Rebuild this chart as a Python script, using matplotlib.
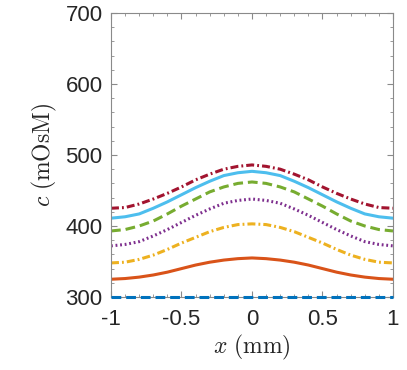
import matplotlib
matplotlib.use("Agg")
import matplotlib.pyplot as plt
from matplotlib.ticker import MultipleLocator

plt.rcParams['mathtext.fontset'] = 'cm'
plt.rcParams['font.family'] = ['Liberation Sans', 'DejaVu Sans']

# positions along x (mm)
x = [-1.0, -0.9, -0.8, -0.7, -0.6, -0.5, -0.4, -0.3, -0.2, -0.1, 0.0,
     0.1, 0.2, 0.3, 0.4, 0.5, 0.6, 0.7, 0.8, 0.9, 1.0]

# concentration profiles (mOsM)
c_blue = [300] * 21
c_orange = [325, 326, 328, 331, 335, 340, 345, 349, 352, 354, 355,
            354, 352, 349, 345, 340, 335, 331, 328, 326, 325]
c_yellow = [348, 349, 353, 359, 367, 376, 384, 392, 398, 402, 403,
            402, 398, 392, 384, 376, 367, 359, 353, 349, 348]
c_purple = [372, 374, 378, 386, 395, 405, 415, 424, 432, 436, 438,
            436, 432, 424, 415, 405, 395, 386, 378, 374, 372]
c_green = [393, 395, 400, 407, 417, 428, 438, 448, 455, 460, 462,
           460, 455, 448, 438, 428, 417, 407, 400, 395, 393]
c_lblue = [411, 413, 417, 425, 434, 444, 454, 463, 471, 475, 477,
           475, 471, 463, 454, 444, 434, 425, 417, 413, 411]
c_red = [425, 426, 431, 438, 446, 455, 465, 473, 480, 484, 486,
         484, 480, 473, 465, 455, 446, 438, 431, 426, 425]

fig = plt.figure(figsize=(4.07, 3.70), dpi=100)
ax = fig.add_axes([0.2727, 0.1973, 0.6929, 0.7676])

lw = 2.2
dash = (3.2, 1.6)
dashdot = (2.6, 1.0, 0.6, 1.0)
ax.plot(x, c_blue, color='#0072BD', lw=lw, dashes=dash, clip_on=False, zorder=3)
ax.plot(x, c_orange, color='#D95319', ls='-', lw=lw)
ax.plot(x, c_yellow, color='#EDB120', lw=lw, dashes=dashdot)
ax.plot(x, c_purple, color='#7E2F8E', lw=lw, dashes=(0.6, 0.9))
ax.plot(x, c_green, color='#77AC30', lw=lw, dashes=dash)
ax.plot(x, c_lblue, color='#4DBEEE', ls='-', lw=lw)
ax.plot(x, c_red, color='#A2142F', lw=lw, dashes=dashdot)

ax.set_xlim(-1, 1)
ax.set_ylim(300, 700)
ax.xaxis.set_major_locator(MultipleLocator(0.5))
ax.xaxis.set_minor_locator(MultipleLocator(0.1))
ax.yaxis.set_major_locator(MultipleLocator(100))
ax.yaxis.set_minor_locator(MultipleLocator(20))
ax.xaxis.set_major_formatter(plt.FuncFormatter(lambda v, p: '%g' % v))

for s in ax.spines.values():
    s.set_color('#8a8a8a')
    s.set_linewidth(0.8)
ax.tick_params(which='both', direction='in', top=True, right=True,
               colors='#8a8a8a', labelcolor='#262626', labelsize=16)
ax.tick_params(which='major', length=4, width=0.8)
ax.tick_params(which='minor', length=2, width=0.6)
ax.tick_params(axis='x', which='major', pad=9)
ax.tick_params(axis='y', which='major', pad=6)

ax.set_xlabel(r'$x\ \mathrm{(mm)}$', fontsize=17, color='#262626', labelpad=2)
ax.set_ylabel(r'$c\ \mathrm{(mOsM)}$', fontsize=17, color='#262626', labelpad=5)

fig.savefig('out.png', dpi=100)
